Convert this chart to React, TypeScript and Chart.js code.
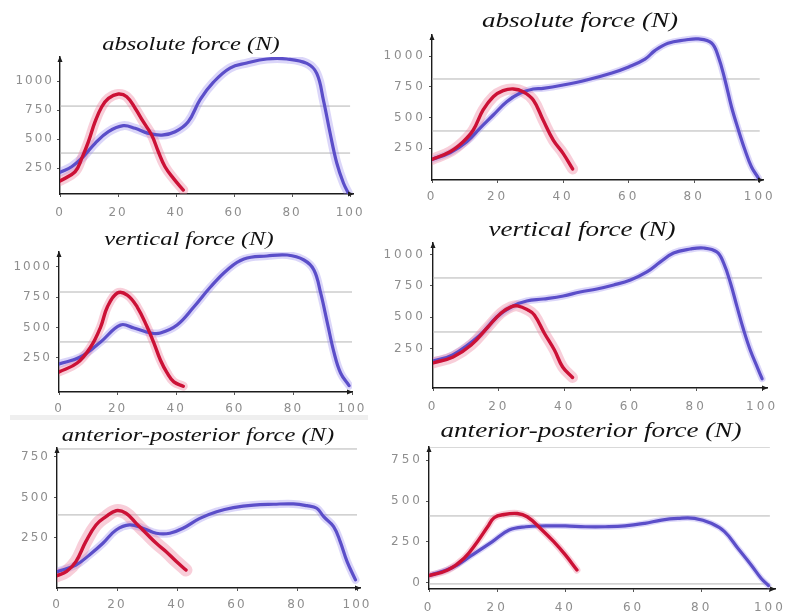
import React, { useEffect, useRef } from "react";
import { Chart, registerables } from "chart.js";

Chart.register(...registerables);

// ---------- tick labels ----------
const xTickValues = [0, 20, 40, 60, 80, 100];
const yTicksForce = [250, 500, 750, 1000];
const yTicksApLeft = [250, 500, 750];
const yTicksApRight = [0, 250, 500, 750];

// ---------- panel titles ----------
const titleAbsolute = "absolute force (N)";
const titleVertical = "vertical force (N)";
const titleAp = "anterior-posterior force (N)";

// ---------- panel 1: absolute force, left ----------
const p1RedX = [0, 5.2, 7.5, 9.8, 12.1, 14.4, 16.7, 20.1, 23, 25.9, 28.7, 31.6, 33.9, 36.2, 39.1, 42.5];
const p1RedY = [138, 218, 333, 477, 649, 778, 851, 888, 865, 765, 649, 534, 390, 261, 161, 60];
const p1BlueX = [0, 4, 8, 12.1, 16.7, 21.8, 25.9, 30.5, 35.1, 39.7, 44.2, 48.3, 52.9, 58.6, 64.4, 71.3, 78.2, 85.1, 88.5, 90.8, 93.1, 95.4, 97.7, 99.4];
const p1BlueY = [213, 261, 347, 463, 563, 615, 592, 549, 534, 563, 649, 840, 990, 1112, 1155, 1190, 1190, 1152, 1066, 836, 552, 293, 121, 34];
const p1Ref = [784, 379];

// ---------- panel 2: absolute force, right ----------
const p2RedX = [0, 5.5, 9.5, 12.6, 15.6, 18.7, 21.7, 24.8, 27.8, 30.9, 33.9, 37, 40, 42.9];
const p2RedY = [160, 222, 304, 399, 562, 670, 719, 733, 711, 643, 480, 317, 209, 82];
const p2BlueX = [0, 5.5, 10.6, 14.6, 18.7, 22.8, 26.8, 30.9, 33.9, 40, 47.2, 54.9, 60, 65, 68, 72, 77.2, 81.3, 85.3, 87.4, 89.4, 91.4, 93.5, 95.5, 97.5, 99.6];
const p2BlueY = [160, 214, 304, 413, 521, 629, 698, 733, 738, 765, 806, 863, 912, 975, 1045, 1105, 1131, 1140, 1107, 993, 806, 586, 399, 236, 98, 8];
const p2Ref = [814, 391];

// ---------- panel 3: vertical force, left ----------
const p3RedX = [0, 6.2, 10.8, 14.2, 16.5, 19.9, 23.3, 26.7, 30.1, 32.4, 34.6, 36.9, 39.2, 42.4];
const p3RedY = [132, 206, 338, 503, 668, 784, 767, 668, 503, 371, 231, 124, 50, 15];
const p3BlueX = [0, 7.3, 14.2, 21, 25.6, 31.3, 34.6, 40.3, 46, 51.7, 57.4, 63.1, 71, 77.9, 83.6, 87, 89.3, 91.6, 93.9, 96.1, 99];
const p3BlueY = [198, 256, 380, 520, 495, 454, 454, 520, 668, 833, 974, 1064, 1089, 1097, 1056, 974, 784, 536, 289, 124, 20];
const p3Ref = [792, 380];

// ---------- panel 4: vertical force, right ----------
const p4RedX = [0, 6.1, 11.6, 16.7, 20.7, 23.7, 25.7, 28.8, 30.8, 33.8, 36.9, 39.4, 42.4];
const p4RedY = [136, 184, 279, 423, 535, 583, 591, 559, 519, 375, 239, 104, 20];
const p4BlueX = [0, 6, 14.3, 19.4, 24.4, 28.5, 33.5, 39.6, 44.7, 49.8, 54.9, 60, 65, 69.1, 73.1, 78.2, 82.3, 86.3, 88.3, 90.4, 92.4, 94.4, 96.4, 98.5, 100];
const p4BlueY = [152, 200, 359, 503, 591, 630, 646, 670, 702, 726, 758, 798, 862, 942, 1013, 1045, 1053, 1021, 934, 774, 583, 399, 239, 104, 10];
const p4Ref = [814, 383];

// ---------- panel 5: anterior-posterior force, left ----------
const p5RedX = [0, 3.1, 6.3, 9.6, 13, 16.3, 19.7, 23, 26.4, 29.7, 33.1, 36.4, 39.8, 43];
const p5RedY = [17, 42, 104, 227, 330, 381, 418, 402, 340, 279, 217, 165, 104, 52];
const p5BlueX = [0, 6.3, 10.8, 15.3, 19.7, 24.2, 28.6, 33.1, 37.6, 42, 47.6, 53.2, 58.8, 65.5, 72.2, 78.8, 83.3, 86.6, 88.9, 92.2, 94.4, 96.7, 99.5];
const p5BlueY = [42, 83, 145, 217, 299, 330, 310, 279, 279, 310, 371, 412, 437, 453, 458, 460, 449, 433, 381, 320, 227, 104, -9];
const p5Ref = [799, 392];

// ---------- panel 6: anterior-posterior force, right ----------
const p6RedX = [0, 5.5, 10.3, 14.2, 17.2, 19.1, 22, 25.9, 28.8, 32.7, 36.6, 40, 43.4];
const p6RedY = [45, 79, 151, 252, 343, 398, 418, 424, 404, 333, 252, 171, 79];
const p6BlueX = [0, 6.9, 12.7, 18.6, 23.5, 28.4, 34.2, 40, 45.8, 51.7, 57.5, 63.3, 68.2, 73, 77.9, 82.8, 86.7, 90.6, 94.5, 97.4, 99.6];
const p6BlueY = [45, 94, 171, 252, 323, 343, 348, 348, 343, 343, 348, 364, 384, 394, 394, 364, 313, 212, 110, 29, -16];
const p6Ref = [830, 409, -6];

// ---------- styles ----------
const RED = "#cc1136";
const RED_BAND = "rgba(236,125,155,0.38)";
const BLUE = "#5b4ec9";
const BLUE_BAND = "rgba(150,136,236,0.34)";
const REF_COLOR = "#b4b4b4";
const TICK_COLOR = "#8e8e8e";
const AXIS_COLOR = "#1c1c1c";

type Panel = {
  title: string;
  titleX: number;
  titleBase: number;
  titleSize: number;
  L: number; T: number; R: number; B: number;
  ymin: number; ymax: number; xmax: number;
  yTicks: number[];
  refs: number[];
  redX: number[]; redY: number[];
  blueX: number[]; blueY: number[];
  xPad: number; yPad: number; ls: number;
  redBand: number; blueBand: number;
};

const panels: Panel[] = [
  { title: titleAbsolute, titleX: 191, titleBase: 50, titleSize: 19, L: 60, T: 57, R: 353, B: 194, ymin: 26, ymax: 1207, xmax: 101, yTicks: yTicksForce, refs: p1Ref, redX: p1RedX, redY: p1RedY, blueX: p1BlueX, blueY: p1BlueY, xPad: 9, yPad: 3, ls: 2, redBand: 10, blueBand: 9 },
  { title: titleAbsolute, titleX: 580, titleBase: 28, titleSize: 21, L: 432, T: 35, R: 763, B: 180, ymin: -8, ymax: 1172, xmax: 101, yTicks: yTicksForce, refs: p2Ref, redX: p2RedX, redY: p2RedY, blueX: p2BlueX, blueY: p2BlueY, xPad: 7, yPad: 3, ls: 3, redBand: 11, blueBand: 7 },
  { title: titleVertical, titleX: 189, titleBase: 245, titleSize: 19, L: 59, T: 252, R: 352, B: 392, ymin: -33, ymax: 1122, xmax: 100, yTicks: yTicksForce, refs: p3Ref, redX: p3RedX, redY: p3RedY, blueX: p3BlueX, blueY: p3BlueY, xPad: 7, yPad: 4, ls: 2, redBand: 9, blueBand: 8 },
  { title: titleVertical, titleX: 582, titleBase: 237, titleSize: 21, L: 433, T: 243, R: 767, B: 388, ymin: -64, ymax: 1093, xmax: 101.5, yTicks: yTicksForce, refs: p4Ref, redX: p4RedX, redY: p4RedY, blueX: p4BlueX, blueY: p4BlueY, xPad: 9, yPad: 4, ls: 3, redBand: 11, blueBand: 7 },
  { title: titleAp, titleX: 198, titleBase: 441, titleSize: 19, L: 57, T: 448, R: 360, B: 588, ymin: -59, ymax: 805, xmax: 101, yTicks: yTicksApLeft, refs: p5Ref, redX: p5RedX, redY: p5RedY, blueX: p5BlueX, blueY: p5BlueY, xPad: 7, yPad: 4, ls: 2, redBand: 13, blueBand: 8 },
  { title: titleAp, titleX: 591, titleBase: 438, titleSize: 21, L: 429, T: 447, R: 775, B: 589, ymin: -37, ymax: 830, xmax: 101.5, yTicks: yTicksApRight, refs: p6Ref, redX: p6RedX, redY: p6RedY, blueX: p6BlueX, blueY: p6BlueY, xPad: 9, yPad: 3, ls: 3, redBand: 7, blueBand: 6 },
];

const YW = 55;
const PT = 10;
const PR = 24;
const XH = 36;

function pts(xs: number[], ys: number[]) {
  return xs.map((x, i) => ({ x, y: ys[i] }));
}

function PanelChart({ p }: { p: Panel }) {
  const ref = useRef<HTMLCanvasElement>(null);
  const w = YW + (p.R - p.L) + PR;
  const h = PT + (p.B - p.T) + XH;

  useEffect(() => {
    const canvas = ref.current;
    if (!canvas) return;
    const lineBase = {
      pointRadius: 0,
      fill: false,
      tension: 0.4,
      borderCapStyle: "round" as const,
      borderJoinStyle: "round" as const,
    };
    const chart = new Chart(canvas, {
      type: "line",
      data: {
        datasets: [
          ...p.refs.map((v) => ({
            data: [{ x: 0, y: v }, { x: 100, y: v }],
            borderColor: REF_COLOR,
            borderWidth: 1,
            pointRadius: 0,
            tension: 0,
            order: 10,
          })),
          { ...lineBase, data: pts(p.blueX, p.blueY), borderColor: BLUE_BAND, borderWidth: p.blueBand, order: 6 },
          { ...lineBase, data: pts(p.redX, p.redY), borderColor: RED_BAND, borderWidth: p.redBand, order: 5 },
          { ...lineBase, data: pts(p.blueX, p.blueY), borderColor: BLUE, borderWidth: 3.2, order: 2 },
          { ...lineBase, data: pts(p.redX, p.redY), borderColor: RED, borderWidth: 3.4, order: 1 },
        ],
      },
      options: {
        responsive: false,
        maintainAspectRatio: false,
        animation: false,
        layout: { padding: { top: PT, right: PR, left: 0, bottom: 0 } },
        plugins: {
          legend: { display: false },
          tooltip: { enabled: false },
          title: { display: false },
        },
        scales: {
          x: {
            type: "linear",
            min: 0,
            max: p.xmax,
            afterBuildTicks: (s: any) => {
              s.ticks = xTickValues.map((v) => ({ value: v }));
            },
            afterFit: (s: any) => {
              s.height = XH;
              s.paddingLeft = 0;
              s.paddingRight = 0;
            },
            grid: { drawOnChartArea: false, drawTicks: true, tickLength: 3, tickColor: "#555" },
            border: { display: true, color: AXIS_COLOR, width: 1.4 },
            ticks: {
              padding: p.xPad,
              color: TICK_COLOR,
              font: { family: "DejaVu Sans", size: 12 },
              maxRotation: 0,
              autoSkip: false,
              callback: (v: any) => String(v),
            },
          },
          y: {
            type: "linear",
            min: p.ymin,
            max: p.ymax,
            afterBuildTicks: (s: any) => {
              s.ticks = p.yTicks.map((v) => ({ value: v }));
            },
            afterFit: (s: any) => {
              s.width = YW;
              s.paddingTop = 0;
              s.paddingBottom = 0;
            },
            grid: { drawOnChartArea: false, drawTicks: true, tickLength: 3, tickColor: "#555" },
            border: { display: true, color: AXIS_COLOR, width: 1.4 },
            ticks: {
              padding: p.yPad,
              color: TICK_COLOR,
              font: { family: "DejaVu Sans", size: 12 },
              autoSkip: false,
              callback: (v: any) => String(v),
            },
          },
        },
      },
      plugins: [
        {
          id: "deco",
          beforeDraw(c: any) {
            (c.ctx as any).letterSpacing = p.ls + "px";
          },
          afterDraw(c: any) {
            const ctx = c.ctx as any;
            ctx.letterSpacing = "0px";
            const a = c.chartArea;
            ctx.save();
            ctx.fillStyle = AXIS_COLOR;
            ctx.beginPath();
            ctx.moveTo(a.left - 2.5, a.top + 5);
            ctx.lineTo(a.left + 2.5, a.top + 5);
            ctx.lineTo(a.left, a.top - 1);
            ctx.closePath();
            ctx.fill();
            ctx.beginPath();
            ctx.moveTo(a.right - 5, a.bottom - 2.5);
            ctx.lineTo(a.right - 5, a.bottom + 2.5);
            ctx.lineTo(a.right + 1, a.bottom);
            ctx.closePath();
            ctx.fill();
            ctx.restore();
          },
        },
      ],
    } as any);
    return () => chart.destroy();
  }, [p]);

  return (
    <canvas
      ref={ref}
      width={w}
      height={h}
      style={{ position: "absolute", left: p.L - YW, top: p.T - PT, width: w, height: h }}
    />
  );
}

export default function App() {
  return (
    <div
      style={{
        position: "absolute",
        left: 0,
        top: 0,
        width: 787,
        height: 615,
        background: "#ffffff",
        overflow: "hidden",
      }}
    >
      <div style={{ position: "absolute", left: 10, top: 415, width: 358, height: 5, background: "#efefef" }} />
      {panels.map((p, i) => (
        <PanelChart key={i} p={p} />
      ))}
      {panels.map((p, i) => (
        <div
          key={"t" + i}
          style={{
            position: "absolute",
            left: p.titleX,
            top: p.titleBase - 0.8375 * p.titleSize,
            fontFamily: "'Liberation Serif', serif",
            fontStyle: "italic",
            fontSize: p.titleSize,
            lineHeight: 1,
            color: "#111",
            whiteSpace: "nowrap",
            transform: "translateX(-50%) scaleX(1.29)",
            transformOrigin: "center",
          }}
        >
          {p.title}
        </div>
      ))}
    </div>
  );
}
